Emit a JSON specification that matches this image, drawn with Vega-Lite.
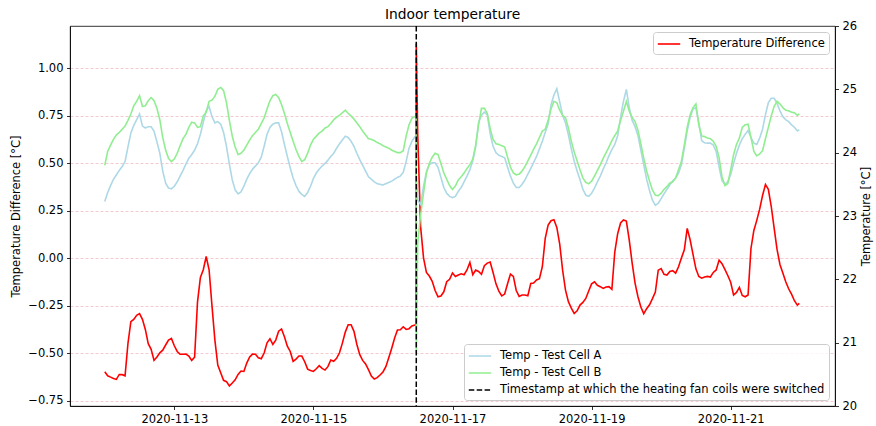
{
  "$schema": "https://vega.github.io/schema/vega-lite/v6.json",
  "width": 765,
  "height": 380,
  "autosize": {"type": "none"},
  "padding": {"left": 70, "right": 41, "top": 26, "bottom": 20},
  "title": {"text": "Indoor temperature", "fontSize": 13.8, "fontWeight": "normal", "font": "DejaVu Sans", "color": "black", "offset": -2},
  "datasets": {
    "main": [
{"t":"2020-11-12T00:00","a":23.23,"b":23.80,"d":-0.597},
{"t":"2020-11-12T01:00","a":23.37,"b":24.02,"d":-0.618},
{"t":"2020-11-12T02:00","a":23.48,"b":24.12,"d":-0.625},
{"t":"2020-11-12T03:00","a":23.58,"b":24.21,"d":-0.632},
{"t":"2020-11-12T04:00","a":23.65,"b":24.28,"d":-0.637},
{"t":"2020-11-12T05:00","a":23.72,"b":24.32,"d":-0.611},
{"t":"2020-11-12T06:00","a":23.78,"b":24.37,"d":-0.612},
{"t":"2020-11-12T07:00","a":23.86,"b":24.42,"d":-0.618},
{"t":"2020-11-12T08:00","a":24.09,"b":24.51,"d":-0.448},
{"t":"2020-11-12T09:00","a":24.31,"b":24.61,"d":-0.333},
{"t":"2020-11-12T10:00","a":24.43,"b":24.74,"d":-0.321},
{"t":"2020-11-12T11:00","a":24.52,"b":24.81,"d":-0.300},
{"t":"2020-11-12T12:00","a":24.61,"b":24.90,"d":-0.291},
{"t":"2020-11-12T13:00","a":24.42,"b":24.73,"d":-0.321},
{"t":"2020-11-12T14:00","a":24.39,"b":24.74,"d":-0.374},
{"t":"2020-11-12T15:00","a":24.41,"b":24.82,"d":-0.449},
{"t":"2020-11-12T16:00","a":24.41,"b":24.87,"d":-0.479},
{"t":"2020-11-12T17:00","a":24.34,"b":24.82,"d":-0.537},
{"t":"2020-11-12T18:00","a":24.17,"b":24.70,"d":-0.519},
{"t":"2020-11-12T19:00","a":23.99,"b":24.52,"d":-0.497},
{"t":"2020-11-12T20:00","a":23.71,"b":24.24,"d":-0.483},
{"t":"2020-11-12T21:00","a":23.52,"b":24.04,"d":-0.456},
{"t":"2020-11-12T22:00","a":23.44,"b":23.91,"d":-0.430},
{"t":"2020-11-12T23:00","a":23.43,"b":23.86,"d":-0.421},
{"t":"2020-11-13T00:00","a":23.47,"b":23.90,"d":-0.460},
{"t":"2020-11-13T01:00","a":23.54,"b":23.99,"d":-0.490},
{"t":"2020-11-13T02:00","a":23.63,"b":24.11,"d":-0.505},
{"t":"2020-11-13T03:00","a":23.72,"b":24.22,"d":-0.505},
{"t":"2020-11-13T04:00","a":23.82,"b":24.29,"d":-0.504},
{"t":"2020-11-13T05:00","a":23.91,"b":24.40,"d":-0.514},
{"t":"2020-11-13T06:00","a":23.97,"b":24.48,"d":-0.537},
{"t":"2020-11-13T07:00","a":24.04,"b":24.47,"d":-0.520},
{"t":"2020-11-13T08:00","a":24.14,"b":24.40,"d":-0.230},
{"t":"2020-11-13T09:00","a":24.29,"b":24.41,"d":-0.100},
{"t":"2020-11-13T10:00","a":24.48,"b":24.58,"d":-0.060},
{"t":"2020-11-13T11:00","a":24.66,"b":24.64,"d":0.010},
{"t":"2020-11-13T12:00","a":24.73,"b":24.81,"d":-0.060},
{"t":"2020-11-13T13:00","a":24.57,"b":24.83,"d":-0.250},
{"t":"2020-11-13T14:00","a":24.47,"b":24.89,"d":-0.430},
{"t":"2020-11-13T15:00","a":24.49,"b":25.00,"d":-0.562},
{"t":"2020-11-13T16:00","a":24.45,"b":25.03,"d":-0.602},
{"t":"2020-11-13T17:00","a":24.32,"b":24.98,"d":-0.642},
{"t":"2020-11-13T18:00","a":24.10,"b":24.79,"d":-0.649},
{"t":"2020-11-13T19:00","a":23.82,"b":24.51,"d":-0.672},
{"t":"2020-11-13T20:00","a":23.57,"b":24.26,"d":-0.656},
{"t":"2020-11-13T21:00","a":23.41,"b":24.09,"d":-0.639},
{"t":"2020-11-13T22:00","a":23.35,"b":23.97,"d":-0.611},
{"t":"2020-11-13T23:00","a":23.38,"b":23.99,"d":-0.593},
{"t":"2020-11-14T00:00","a":23.47,"b":24.04,"d":-0.595},
{"t":"2020-11-14T01:00","a":23.58,"b":24.12,"d":-0.551},
{"t":"2020-11-14T02:00","a":23.67,"b":24.20,"d":-0.519},
{"t":"2020-11-14T03:00","a":23.74,"b":24.27,"d":-0.504},
{"t":"2020-11-14T04:00","a":23.79,"b":24.32,"d":-0.505},
{"t":"2020-11-14T05:00","a":23.84,"b":24.37,"d":-0.523},
{"t":"2020-11-14T06:00","a":23.93,"b":24.46,"d":-0.528},
{"t":"2020-11-14T07:00","a":24.10,"b":24.55,"d":-0.498},
{"t":"2020-11-14T08:00","a":24.29,"b":24.69,"d":-0.444},
{"t":"2020-11-14T09:00","a":24.40,"b":24.82,"d":-0.423},
{"t":"2020-11-14T10:00","a":24.45,"b":24.90,"d":-0.453},
{"t":"2020-11-14T11:00","a":24.47,"b":24.92,"d":-0.430},
{"t":"2020-11-14T12:00","a":24.47,"b":24.87,"d":-0.383},
{"t":"2020-11-14T13:00","a":24.33,"b":24.76,"d":-0.372},
{"t":"2020-11-14T14:00","a":24.13,"b":24.62,"d":-0.412},
{"t":"2020-11-14T15:00","a":23.94,"b":24.46,"d":-0.462},
{"t":"2020-11-14T16:00","a":23.76,"b":24.32,"d":-0.490},
{"t":"2020-11-14T17:00","a":23.60,"b":24.18,"d":-0.542},
{"t":"2020-11-14T18:00","a":23.48,"b":24.05,"d":-0.530},
{"t":"2020-11-14T19:00","a":23.39,"b":23.94,"d":-0.514},
{"t":"2020-11-14T20:00","a":23.34,"b":23.86,"d":-0.514},
{"t":"2020-11-14T21:00","a":23.31,"b":23.89,"d":-0.544},
{"t":"2020-11-14T22:00","a":23.37,"b":23.99,"d":-0.583},
{"t":"2020-11-14T23:00","a":23.47,"b":24.12,"d":-0.590},
{"t":"2020-11-15T00:00","a":23.59,"b":24.21,"d":-0.595},
{"t":"2020-11-15T01:00","a":23.68,"b":24.26,"d":-0.581},
{"t":"2020-11-15T02:00","a":23.74,"b":24.31,"d":-0.565},
{"t":"2020-11-15T03:00","a":23.79,"b":24.34,"d":-0.579},
{"t":"2020-11-15T04:00","a":23.83,"b":24.39,"d":-0.588},
{"t":"2020-11-15T05:00","a":23.88,"b":24.41,"d":-0.570},
{"t":"2020-11-15T06:00","a":23.94,"b":24.46,"d":-0.535},
{"t":"2020-11-15T07:00","a":23.99,"b":24.52,"d":-0.542},
{"t":"2020-11-15T08:00","a":24.07,"b":24.56,"d":-0.526},
{"t":"2020-11-15T09:00","a":24.14,"b":24.59,"d":-0.497},
{"t":"2020-11-15T10:00","a":24.20,"b":24.63,"d":-0.446},
{"t":"2020-11-15T11:00","a":24.26,"b":24.67,"d":-0.388},
{"t":"2020-11-15T12:00","a":24.24,"b":24.62,"d":-0.349},
{"t":"2020-11-15T13:00","a":24.18,"b":24.58,"d":-0.349},
{"t":"2020-11-15T14:00","a":24.10,"b":24.53,"d":-0.384},
{"t":"2020-11-15T15:00","a":23.99,"b":24.47,"d":-0.453},
{"t":"2020-11-15T16:00","a":23.89,"b":24.41,"d":-0.507},
{"t":"2020-11-15T17:00","a":23.80,"b":24.34,"d":-0.537},
{"t":"2020-11-15T18:00","a":23.71,"b":24.28,"d":-0.556},
{"t":"2020-11-15T19:00","a":23.62,"b":24.22,"d":-0.586},
{"t":"2020-11-15T20:00","a":23.58,"b":24.21,"d":-0.619},
{"t":"2020-11-15T21:00","a":23.54,"b":24.19,"d":-0.635},
{"t":"2020-11-15T22:00","a":23.51,"b":24.16,"d":-0.628},
{"t":"2020-11-15T23:00","a":23.50,"b":24.14,"d":-0.614},
{"t":"2020-11-16T00:00","a":23.49,"b":24.11,"d":-0.598},
{"t":"2020-11-16T01:00","a":23.51,"b":24.09,"d":-0.570},
{"t":"2020-11-16T02:00","a":23.53,"b":24.07,"d":-0.523},
{"t":"2020-11-16T03:00","a":23.55,"b":24.04,"d":-0.474},
{"t":"2020-11-16T04:00","a":23.58,"b":24.02,"d":-0.421},
{"t":"2020-11-16T05:00","a":23.61,"b":24.00,"d":-0.377},
{"t":"2020-11-16T06:00","a":23.63,"b":24.00,"d":-0.376},
{"t":"2020-11-16T07:00","a":23.69,"b":24.03,"d":-0.360},
{"t":"2020-11-16T08:00","a":23.86,"b":24.26,"d":-0.374},
{"t":"2020-11-16T09:00","a":24.07,"b":24.44,"d":-0.370},
{"t":"2020-11-16T10:00","a":24.18,"b":24.545,"d":-0.356},
{"t":"2020-11-16T11:00","a":24.25,"b":24.57,"d":-0.351},
{"t":"2020-11-16T11:25","a":24.25,"b":24.57,"d":-0.350},
{"t":"2020-11-16T11:30","a":23.68,"b":20.83,"d":1.131},
{"t":"2020-11-16T12:00","a":23.25,"b":22.57,"d":0.649},
{"t":"2020-11-16T13:00","a":23.18,"b":23.02,"d":0.166},
{"t":"2020-11-16T14:00","a":23.47,"b":23.36,"d":0.003},
{"t":"2020-11-16T15:00","a":23.70,"b":23.68,"d":-0.074},
{"t":"2020-11-16T16:00","a":23.81,"b":23.83,"d":-0.093},
{"t":"2020-11-16T17:00","a":23.84,"b":23.93,"d":-0.121},
{"t":"2020-11-16T18:00","a":23.84,"b":23.99,"d":-0.169},
{"t":"2020-11-16T19:00","a":23.77,"b":23.97,"d":-0.202},
{"t":"2020-11-16T20:00","a":23.61,"b":23.83,"d":-0.198},
{"t":"2020-11-16T21:00","a":23.45,"b":23.68,"d":-0.176},
{"t":"2020-11-16T22:00","a":23.36,"b":23.58,"d":-0.123},
{"t":"2020-11-16T23:00","a":23.31,"b":23.48,"d":-0.110},
{"t":"2020-11-17T00:00","a":23.29,"b":23.42,"d":-0.077},
{"t":"2020-11-17T01:00","a":23.31,"b":23.475,"d":-0.095},
{"t":"2020-11-17T02:00","a":23.39,"b":23.57,"d":-0.088},
{"t":"2020-11-17T03:00","a":23.45,"b":23.62,"d":-0.081},
{"t":"2020-11-17T04:00","a":23.54,"b":23.68,"d":-0.086},
{"t":"2020-11-17T05:00","a":23.63,"b":23.75,"d":-0.061},
{"t":"2020-11-17T06:00","a":23.73,"b":23.81,"d":-0.021},
{"t":"2020-11-17T07:00","a":23.87,"b":23.90,"d":-0.086},
{"t":"2020-11-17T08:00","a":24.09,"b":24.12,"d":-0.061},
{"t":"2020-11-17T09:00","a":24.48,"b":24.44,"d":-0.069},
{"t":"2020-11-17T10:00","a":24.59,"b":24.70,"d":-0.084},
{"t":"2020-11-17T11:00","a":24.64,"b":24.70,"d":-0.039},
{"t":"2020-11-17T12:00","a":24.60,"b":24.62,"d":-0.025},
{"t":"2020-11-17T13:00","a":24.30,"b":24.38,"d":-0.019},
{"t":"2020-11-17T14:00","a":24.10,"b":24.21,"d":-0.074},
{"t":"2020-11-17T15:00","a":24.00,"b":24.14,"d":-0.134},
{"t":"2020-11-17T16:00","a":23.96,"b":24.13,"d":-0.172},
{"t":"2020-11-17T17:00","a":23.94,"b":24.11,"d":-0.198},
{"t":"2020-11-17T18:00","a":23.92,"b":24.09,"d":-0.188},
{"t":"2020-11-17T19:00","a":23.77,"b":23.93,"d":-0.134},
{"t":"2020-11-17T20:00","a":23.63,"b":23.77,"d":-0.083},
{"t":"2020-11-17T21:00","a":23.52,"b":23.68,"d":-0.095},
{"t":"2020-11-17T22:00","a":23.45,"b":23.65,"d":-0.169},
{"t":"2020-11-17T23:00","a":23.45,"b":23.66,"d":-0.200},
{"t":"2020-11-18T00:00","a":23.50,"b":23.71,"d":-0.193},
{"t":"2020-11-18T01:00","a":23.57,"b":23.78,"d":-0.193},
{"t":"2020-11-18T02:00","a":23.66,"b":23.87,"d":-0.197},
{"t":"2020-11-18T03:00","a":23.75,"b":23.96,"d":-0.132},
{"t":"2020-11-18T04:00","a":23.845,"b":24.055,"d":-0.130},
{"t":"2020-11-18T05:00","a":23.94,"b":24.14,"d":-0.114},
{"t":"2020-11-18T06:00","a":24.06,"b":24.24,"d":-0.107},
{"t":"2020-11-18T07:00","a":24.18,"b":24.34,"d":-0.044},
{"t":"2020-11-18T08:00","a":24.32,"b":24.37,"d":0.105},
{"t":"2020-11-18T09:00","a":24.455,"b":24.51,"d":0.175},
{"t":"2020-11-18T10:00","a":24.755,"b":24.69,"d":0.198},
{"t":"2020-11-18T11:00","a":24.91,"b":24.81,"d":0.203},
{"t":"2020-11-18T12:00","a":25.01,"b":24.79,"d":0.163},
{"t":"2020-11-18T13:00","a":24.80,"b":24.67,"d":0.075},
{"t":"2020-11-18T14:00","a":24.59,"b":24.59,"d":-0.062},
{"t":"2020-11-18T15:00","a":24.47,"b":24.55,"d":-0.167},
{"t":"2020-11-18T16:00","a":24.28,"b":24.39,"d":-0.228},
{"t":"2020-11-18T17:00","a":24.06,"b":24.18,"d":-0.262},
{"t":"2020-11-18T18:00","a":23.865,"b":24.01,"d":-0.290},
{"t":"2020-11-18T19:00","a":23.71,"b":23.87,"d":-0.276},
{"t":"2020-11-18T20:00","a":23.575,"b":23.73,"d":-0.246},
{"t":"2020-11-18T21:00","a":23.42,"b":23.60,"d":-0.232},
{"t":"2020-11-18T22:00","a":23.33,"b":23.53,"d":-0.211},
{"t":"2020-11-18T23:00","a":23.31,"b":23.51,"d":-0.172},
{"t":"2020-11-19T00:00","a":23.36,"b":23.55,"d":-0.134},
{"t":"2020-11-19T01:00","a":23.44,"b":23.63,"d":-0.123},
{"t":"2020-11-19T02:00","a":23.54,"b":23.72,"d":-0.142},
{"t":"2020-11-19T03:00","a":23.63,"b":23.81,"d":-0.149},
{"t":"2020-11-19T04:00","a":23.74,"b":23.91,"d":-0.158},
{"t":"2020-11-19T05:00","a":23.84,"b":24.00,"d":-0.151},
{"t":"2020-11-19T06:00","a":23.95,"b":24.09,"d":-0.149},
{"t":"2020-11-19T07:00","a":24.05,"b":24.19,"d":-0.163},
{"t":"2020-11-19T08:00","a":24.13,"b":24.27,"d":0.033},
{"t":"2020-11-19T09:00","a":24.265,"b":24.34,"d":0.130},
{"t":"2020-11-19T10:00","a":24.56,"b":24.51,"d":0.186},
{"t":"2020-11-19T11:00","a":24.81,"b":24.655,"d":0.202},
{"t":"2020-11-19T12:00","a":25.00,"b":24.81,"d":0.196},
{"t":"2020-11-19T13:00","a":24.71,"b":24.655,"d":0.096},
{"t":"2020-11-19T14:00","a":24.51,"b":24.555,"d":-0.025},
{"t":"2020-11-19T15:00","a":24.41,"b":24.49,"d":-0.130},
{"t":"2020-11-19T16:00","a":24.27,"b":24.355,"d":-0.202},
{"t":"2020-11-19T17:00","a":24.04,"b":24.14,"d":-0.256},
{"t":"2020-11-19T18:00","a":23.81,"b":23.91,"d":-0.291},
{"t":"2020-11-19T19:00","a":23.58,"b":23.71,"d":-0.265},
{"t":"2020-11-19T20:00","a":23.40,"b":23.55,"d":-0.244},
{"t":"2020-11-19T21:00","a":23.25,"b":23.41,"d":-0.212},
{"t":"2020-11-19T22:00","a":23.17,"b":23.33,"d":-0.177},
{"t":"2020-11-19T23:00","a":23.20,"b":23.32,"d":-0.062},
{"t":"2020-11-20T00:00","a":23.275,"b":23.36,"d":-0.054},
{"t":"2020-11-20T01:00","a":23.35,"b":23.42,"d":-0.084},
{"t":"2020-11-20T02:00","a":23.42,"b":23.465,"d":-0.088},
{"t":"2020-11-20T03:00","a":23.49,"b":23.52,"d":-0.069},
{"t":"2020-11-20T04:00","a":23.555,"b":23.54,"d":-0.065},
{"t":"2020-11-20T05:00","a":23.60,"b":23.60,"d":-0.078},
{"t":"2020-11-20T06:00","a":23.676,"b":23.73,"d":-0.044},
{"t":"2020-11-20T07:00","a":23.81,"b":23.865,"d":0.002},
{"t":"2020-11-20T08:00","a":24.07,"b":24.12,"d":0.045},
{"t":"2020-11-20T09:00","a":24.345,"b":24.40,"d":0.158},
{"t":"2020-11-20T10:00","a":24.555,"b":24.60,"d":0.098},
{"t":"2020-11-20T11:00","a":24.69,"b":24.71,"d":0.021},
{"t":"2020-11-20T12:00","a":24.71,"b":24.77,"d":-0.055},
{"t":"2020-11-20T13:00","a":24.47,"b":24.44,"d":-0.095},
{"t":"2020-11-20T14:00","a":24.19,"b":24.265,"d":-0.104},
{"t":"2020-11-20T15:00","a":24.155,"b":24.255,"d":-0.098},
{"t":"2020-11-20T16:00","a":24.15,"b":24.23,"d":-0.095},
{"t":"2020-11-20T17:00","a":24.15,"b":24.22,"d":-0.098},
{"t":"2020-11-20T18:00","a":24.12,"b":24.18,"d":-0.074},
{"t":"2020-11-20T19:00","a":24.02,"b":24.10,"d":-0.061},
{"t":"2020-11-20T20:00","a":23.775,"b":23.92,"d":-0.009},
{"t":"2020-11-20T21:00","a":23.56,"b":23.62,"d":-0.028},
{"t":"2020-11-20T22:00","a":23.50,"b":23.48,"d":-0.058},
{"t":"2020-11-20T23:00","a":23.54,"b":23.51,"d":-0.090},
{"t":"2020-11-21T00:00","a":23.655,"b":23.73,"d":-0.126},
{"t":"2020-11-21T01:00","a":23.83,"b":23.97,"d":-0.193},
{"t":"2020-11-21T02:00","a":23.99,"b":24.13,"d":-0.179},
{"t":"2020-11-21T03:00","a":24.12,"b":24.23,"d":-0.153},
{"t":"2020-11-21T04:00","a":24.22,"b":24.40,"d":-0.195},
{"t":"2020-11-21T05:00","a":24.29,"b":24.44,"d":-0.202},
{"t":"2020-11-21T06:00","a":24.35,"b":24.45,"d":-0.193},
{"t":"2020-11-21T07:00","a":24.24,"b":24.24,"d":0.052},
{"t":"2020-11-21T08:00","a":24.15,"b":24.02,"d":0.147},
{"t":"2020-11-21T09:00","a":24.13,"b":23.95,"d":0.200},
{"t":"2020-11-21T10:00","a":24.23,"b":23.98,"d":0.259},
{"t":"2020-11-21T11:00","a":24.37,"b":24.03,"d":0.331},
{"t":"2020-11-21T12:00","a":24.60,"b":24.22,"d":0.389},
{"t":"2020-11-21T13:00","a":24.79,"b":24.40,"d":0.363},
{"t":"2020-11-21T14:00","a":24.86,"b":24.58,"d":0.273},
{"t":"2020-11-21T15:00","a":24.86,"b":24.73,"d":0.159},
{"t":"2020-11-21T16:00","a":24.78,"b":24.81,"d":0.047},
{"t":"2020-11-21T17:00","a":24.66,"b":24.77,"d":-0.032},
{"t":"2020-11-21T18:00","a":24.57,"b":24.71,"d":-0.077},
{"t":"2020-11-21T19:00","a":24.52,"b":24.67,"d":-0.123},
{"t":"2020-11-21T20:00","a":24.49,"b":24.66,"d":-0.160},
{"t":"2020-11-21T21:00","a":24.44,"b":24.64,"d":-0.188},
{"t":"2020-11-21T22:00","a":24.40,"b":24.63,"d":-0.223},
{"t":"2020-11-21T23:00","a":24.345,"b":24.59,"d":-0.246},
{"t":"2020-11-21T23:42","a":24.36,"b":24.61,"d":-0.237}
    ],
    "switch": [{"t": "2020-11-16T11:30", "series": "c"}]
  },
  "layer": [
    {
      "data": {"name": "main"},
      "mark": {"type": "line", "strokeWidth": 1.6, "clip": true},
      "encoding": {
        "x": {
          "field": "t", "type": "temporal",
          "scale": {"domain": [{"year": 2020, "month": 11, "date": 11, "hours": 12}, {"year": 2020, "month": 11, "date": 22, "hours": 12}]},
          "axis": {
            "title": null, "format": "%Y-%m-%d", "grid": false, "labelFlush": false, "labelOverlap": false,
            "values": [{"year": 2020, "month": 11, "date": 13}, {"year": 2020, "month": 11, "date": 15}, {"year": 2020, "month": 11, "date": 17}, {"year": 2020, "month": 11, "date": 19}, {"year": 2020, "month": 11, "date": 21}]
          }
        },
        "y": {
          "field": "d", "type": "quantitative",
          "scale": {"domain": [-0.777, 1.223], "nice": false, "zero": false},
          "axis": {
            "orient": "left", "title": "Temperature Difference [°C]", "format": ".2f",
            "values": [-0.75, -0.5, -0.25, 0, 0.25, 0.5, 0.75, 1.0],
            "grid": true, "gridColor": "#f0bcc4", "gridDash": [3, 2], "gridWidth": 0.8, "titlePadding": 6
          }
        },
        "color": {
          "datum": "Temperature Difference",
          "scale": {"range": ["#ff0000"]},
          "legend": {"orient": "top-right", "offset": 6, "title": null}
        }
      }
    },
    {
      "layer": [
        {
          "data": {"name": "main"},
          "transform": [{"fold": ["a", "b"], "as": ["series", "v"]}],
          "mark": {"type": "line", "strokeWidth": 1.6, "clip": true},
          "encoding": {
            "x": {"field": "t", "type": "temporal"},
            "y": {
              "field": "v", "type": "quantitative",
              "scale": {"domain": [20, 26], "nice": false, "zero": false},
              "axis": {"orient": "right", "title": "Temperature [°C]", "values": [20, 21, 22, 23, 24, 25, 26], "format": "d", "grid": false, "titleAngle": 270, "titleX": 31, "titleY": 190, "titleBaseline": "middle", "titleAlign": "center"}
            },
            "color": {
              "field": "series", "type": "nominal",
              "scale": {"domain": ["a", "b", "c"], "range": ["#add8e6", "#90ee90", "#000000"]},
              "legend": {
                "orient": "bottom-right", "offset": 6, "title": null,
                "labelExpr": "datum.label == 'a' ? 'Temp - Test Cell A' : datum.label == 'b' ? 'Temp - Test Cell B' : 'Timestamp at which the heating fan coils were switched'"
              }
            },
            "strokeDash": {
              "field": "series", "type": "nominal",
              "scale": {"domain": ["a", "b", "c"], "range": [[1, 0], [1, 0], [5.5, 2.4]]},
              "legend": {
                "orient": "bottom-right", "offset": 6, "title": null,
                "labelExpr": "datum.label == 'a' ? 'Temp - Test Cell A' : datum.label == 'b' ? 'Temp - Test Cell B' : 'Timestamp at which the heating fan coils were switched'"
              }
            }
          }
        },
        {
          "data": {"name": "switch"},
          "mark": {"type": "rule", "strokeWidth": 1.5},
          "encoding": {
            "x": {"field": "t", "type": "temporal"},
            "color": {"field": "series", "type": "nominal"},
            "strokeDash": {"field": "series", "type": "nominal"}
          }
        }
      ]
    }
  ],
  "resolve": {"scale": {"y": "independent", "color": "independent", "strokeDash": "independent"}},
  "config": {
    "font": "DejaVu Sans",
    "view": {"stroke": "#000000", "strokeWidth": 0.8},
    "axis": {
      "labelFont": "DejaVu Sans", "labelFontSize": 11.5, "labelColor": "#000000",
      "titleFont": "DejaVu Sans", "titleFontSize": 11.5, "titleFontWeight": "normal", "titleColor": "#000000",
      "tickColor": "#000000", "tickSize": 3.5, "tickWidth": 0.8,
      "domainColor": "#000000", "domainWidth": 0.8, "labelPadding": 3.5
    },
    "legend": {
      "labelFont": "DejaVu Sans", "labelFontSize": 11.5, "labelColor": "#000000", "labelLimit": 450,
      "symbolType": "M-1.6,0H1.6", "symbolSize": 196, "symbolStrokeWidth": 1.6, "symbolOffset": 4, "labelOffset": 12,
      "fillColor": "rgba(255,255,255,0.8)", "strokeColor": "#cccccc", "cornerRadius": 3, "padding": 4, "rowPadding": 3
    }
  }
}
